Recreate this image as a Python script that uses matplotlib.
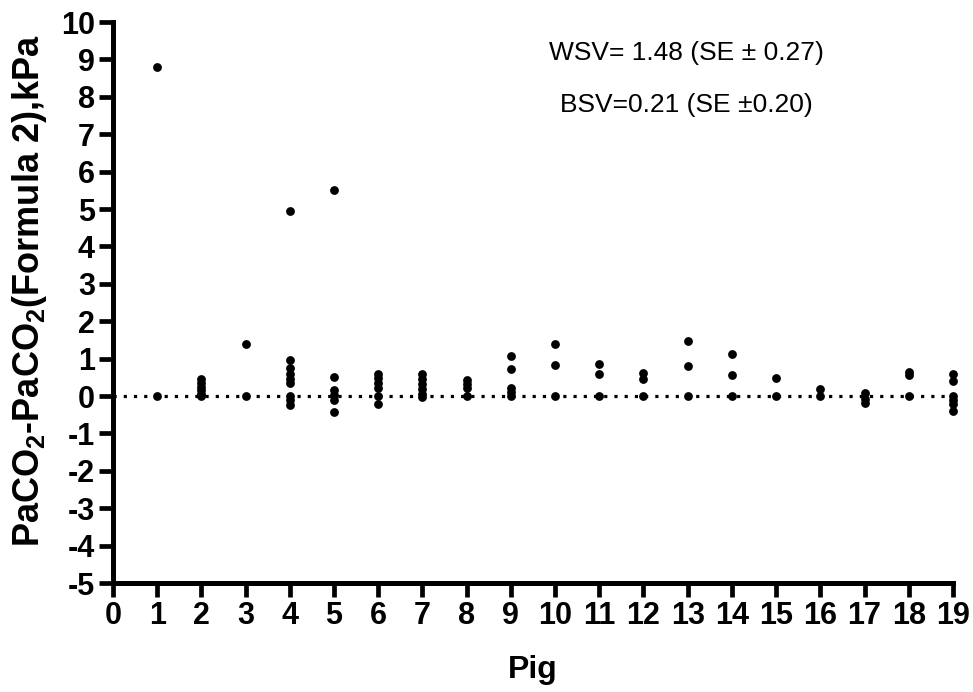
import matplotlib
matplotlib.use("Agg")
import matplotlib.pyplot as plt

plt.rcParams['font.family'] = ['Liberation Sans', 'DejaVu Sans']
plt.rcParams['mathtext.fontset'] = 'custom'
plt.rcParams['mathtext.bf'] = 'Liberation Sans:bold'
plt.rcParams['mathtext.rm'] = 'Liberation Sans:bold'
plt.rcParams['mathtext.default'] = 'bf'
plt.rcParams['axes.unicode_minus'] = False

# differences per pig
pig1 = [8.8, 0.0]
pig2 = [0.45, 0.35, 0.25, 0.15, 0.05, 0.0]
pig3 = [1.4, 0.0]
pig4 = [4.95, 0.95, 0.75, 0.6, 0.45, 0.35, 0.0, -0.1, -0.25]
pig5 = [5.5, 0.52, 0.15, 0.03, -0.1, -0.43]
pig6 = [0.6, 0.48, 0.36, 0.22, 0.0, -0.22]
pig7 = [0.58, 0.46, 0.32, 0.18, 0.05, -0.03]
pig8 = [0.42, 0.32, 0.22, 0.0]
pig9 = [1.08, 0.72, 0.22, 0.1, 0.0]
pig10 = [1.4, 0.84, 0.0]
pig11 = [0.86, 0.58, 0.0]
pig12 = [0.62, 0.45, 0.0]
pig13 = [1.47, 0.8, 0.0]
pig14 = [1.13, 0.56, 0.0]
pig15 = [0.48, 0.0]
pig16 = [0.2, 0.0]
pig17 = [0.08, -0.08, -0.2]
pig18 = [0.65, 0.57, 0.0]
pig19 = [0.6, 0.4, 0.0, -0.1, -0.22, -0.4]

pigs = [pig1, pig2, pig3, pig4, pig5, pig6, pig7, pig8, pig9, pig10,
        pig11, pig12, pig13, pig14, pig15, pig16, pig17, pig18, pig19]

fig = plt.figure(figsize=(9.73, 6.92), dpi=100)
ax = fig.add_axes([0.1161, 0.1575, 0.8633, 0.8107])

ax.axhline(0, color='black', lw=2.3, linestyle=(0, (1, 2.2)), zorder=1)

for i, vals in enumerate(pigs):
    ax.scatter([i + 1] * len(vals), vals, s=40, color='black', zorder=3,
               linewidths=0, clip_on=False)

ax.set_xlim(0, 19)
ax.set_ylim(-5, 10)
ax.set_xticks(range(0, 20))
ax.set_yticks(range(-5, 11))

for s in ['top', 'right']:
    ax.spines[s].set_visible(False)
for s in ['left', 'bottom']:
    ax.spines[s].set_linewidth(3.6)

ax.tick_params(width=3.4, length=10, labelsize=22, pad=3)
for lab in ax.get_xticklabels() + ax.get_yticklabels():
    lab.set_fontweight('bold')

ax.set_xlabel('Pig', fontsize=23, fontweight='bold', labelpad=17)
ax.set_ylabel('PaCO$_2$-PaCO$_2$(Formula 2),kPa', fontsize=26,
              fontweight='bold')
ax.yaxis.set_label_coords(-0.076, 0.522)

ax.text(0.683, 0.944, 'WSV= 1.48 (SE \u00b1 0.27)', transform=ax.transAxes,
        fontsize=19, ha='center', va='center')
ax.text(0.683, 0.852, 'BSV=0.21 (SE \u00b10.20)', transform=ax.transAxes,
        fontsize=19, ha='center', va='center')

fig.savefig('out.png', dpi=100)
